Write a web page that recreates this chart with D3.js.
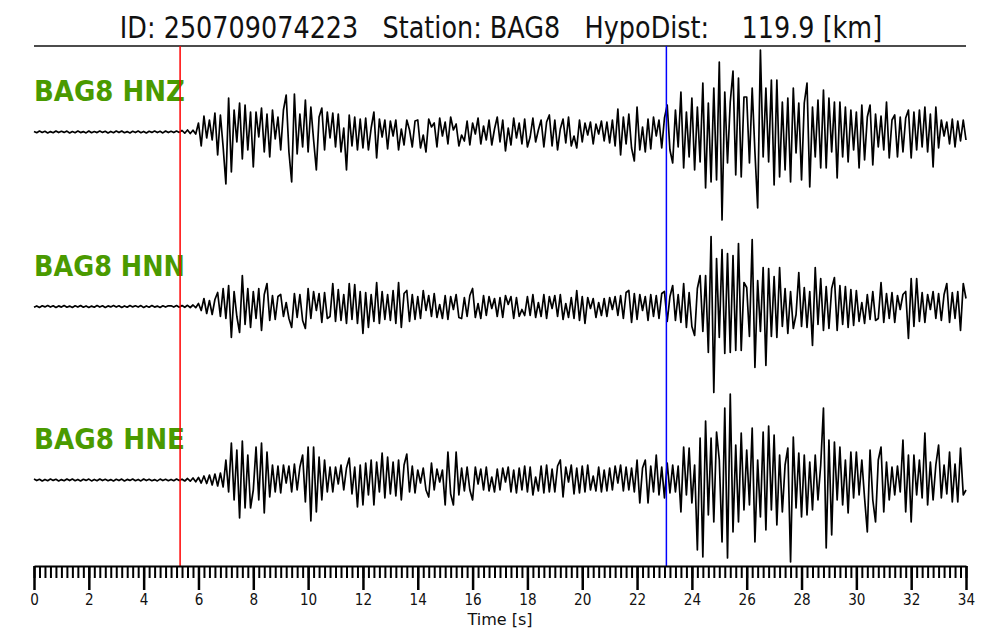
<!DOCTYPE html>
<html><head><meta charset="utf-8">
<script src="https://cdn.jsdelivr.net/npm/d3@7"></script>
<style>
body{margin:0;background:#fff}
svg{display:block}
text{font-family:"DejaVu Sans",sans-serif}
</style>
</head><body>
<svg id="chart" width="1000" height="640"></svg>
<script>
// ---------------- data ----------------
const eventId = "250709074223";
const station = "BAG8";
const hypoDist = "119.9";
const channels = ["BAG8 HNZ", "BAG8 HNN", "BAG8 HNE"];
const sampleInterval = 0.1;          // seconds between samples
const pPick = 5.33;                  // s (red)
const sPick = 23.07;                 // s (blue)
const majorTicks = d3.range(0, 35, 2);
const minorTicks = d3.range(0, 170.5, 1).map(d => d / 5);

// amplitudes (arbitrary units) at t = 0.0, 0.1, 0.2, ... s  (one row per second)
const hnz = [
 0.6,-0.7,0.9,-0.5,0.7,-0.9,0.4,-0.7,1.0,-0.6,
 0.7,-0.4,0.9,-1.0,0.5,-0.7,0.9,-0.6,0.4,-0.9,
 1.0,-0.7,0.5,-0.6,0.9,-0.4,0.7,-1.0,0.6,-0.7,
 0.9,-0.6,1.0,-0.7,0.4,-0.9,0.7,-0.6,0.9,-0.7,
 0.6,-1.0,0.7,-0.4,0.9,-0.6,0.7,-0.9,1.0,-0.6,
 0.7,-0.6,0.9,-0.4,1.5,-1.2,2,-1.5,1.8,-2,
 9,-14,16,-6,12,-8,19,-23,17,-15,
 -52,34,-40,22,-10,29,-27,27,-18,20,
 -35,20,-5,24,-20,18,-25,22,-7,15,
 -18,22,37,-20,-50,38,-22,18,-15,32,
 -20,25,-8,-38,15,24,-18,20,-6,19,
 -15,18,-20,4,-38,17,-14,15,-18,13,
 -16,14,-18,4,20,-26,13,-5,12,-17,
 11,-4,12,-18,3,-13,12,2,-15,11,
 12,-16,-3,-20,13,5,9,-15,14,-4,
 10,-12,15,2,8,-14,-3,-9,11,-13,
 9,-2,14,-12,6,-8,12,-13,3,15,
 -10,12,-19,4,-13,14,-6,9,-12,13,
 -15,-5,14,-10,2,12,-15,10,17,-14,
 12,-18,3,13,-11,15,-14,-4,-16,12,
 -10,9,-3,10,-12,8,-2,11,-9,10,
 -11,12,-14,23,-23,15,-12,18,-16,-29,
 25,-18,5,-20,13,-17,15,-4,12,-16,
 14,27,-18,-31,22,-15,40,-36,20,-25,
 34,-38,25,-30,49,-56,29,-50,44,-48,
 70,-88,40,-31,30,61,-43,54,-45,35,
 35,-31,44,-20,-76,82,-25,44,-30,52,
 -53,52,-45,30,-38,34,-50,44,-21,29,
 -48,29,49,-55,25,-25,32,-36,42,-36,
 34,-20,30,-46,30,-25,25,-30,22,-18,
 20,-36,27,-28,15,27,-33,18,-15,16,
 -18,30,-26,12,17,-25,15,-20,14,22,
 -26,20,-18,22,-15,25,-20,18,-35,25,
 -16,12,-4,10,-12,13,-15,11,-9,12,
 -8
];
const hnn = [
 -0.7,0.6,-0.9,0.7,-0.4,0.9,-0.6,0.7,-1.0,0.6,
 -0.6,0.9,-0.7,0.4,-0.9,0.7,-0.6,1.0,-0.7,0.6,
 -0.9,0.4,-0.7,0.9,-0.6,0.7,-1.0,0.6,-0.4,0.9,
 -0.6,0.7,-0.9,0.6,-0.7,1.0,-0.4,0.7,-0.6,0.9,
 -1.0,0.6,-0.7,0.9,-0.6,0.4,-0.9,0.7,-0.6,0.7,
 0.7,-0.6,0.9,-0.7,1,-0.8,1.2,-1,1.5,-1.2,
 3,-4,8,-7,6,-8,7,14,-10,18,
 -12,21,-31,15,-10,-26,31,-18,18,-21,
 15,-12,18,-24,12,23,-14,11,-13,10,
 12,-10,4,-12,-21,13,-11,12,-14,-22,
 18,-12,15,-4,13,-16,14,-12,-10,23,
 -15,17,-14,12,-17,23,-13,22,-17,15,
 -27,14,-21,12,-15,24,-17,15,-13,12,
 -14,16,-17,24,-21,13,16,-15,12,-13,
 10,-12,16,-4,11,-10,13,-11,2,-12,
 11,-13,10,-3,12,-11,-12,9,-10,11,
 18,-11,3,-12,11,-9,10,-2,8,-10,
 9,-11,11,2,10,-12,9,-10,-3,-9,
 10,-9,12,-11,4,-10,12,-12,10,-2,
 11,-10,12,-13,3,-11,9,-12,16,-14,
 10,-17,9,-2,8,-11,4,-9,8,-10,
 9,-3,10,-9,11,-12,14,16,-16,13,
 -13,12,-4,10,-14,12,-10,11,-12,13,
 15,-15,10,21,-14,12,-16,23,-21,14,
 -20,-29,18,31,-25,31,-46,70,-86,48,
 -31,57,-47,53,-46,51,-44,63,-44,24,
 19,-30,67,-61,26,-25,39,-59,38,-30,
 30,-31,39,-20,18,-27,15,-22,-8,34,
 -20,19,-21,15,-39,39,-18,28,-24,20,
 -22,18,29,-24,21,-18,20,-21,17,-19,
 16,-15,4,-17,12,-13,15,-14,-12,24,
 -16,13,-12,14,-16,11,-3,12,15,-32,
 28,-20,28,-15,14,-16,12,-3,15,-12,
 13,-14,12,23,-16,14,-12,15,-24,23,
 8
];
const hne = [
 0.9,-0.6,0.7,-1.0,0.6,-0.7,0.9,-0.4,0.7,-0.9,
 0.4,-0.7,1.0,-0.6,0.9,-0.7,0.6,-0.9,0.7,-0.4,
 0.9,-0.9,0.6,-0.7,1.0,-0.6,0.7,-0.7,0.4,-0.9,
 0.7,-0.6,0.9,-1.0,0.6,-0.4,0.9,-0.7,0.6,-0.9,
 1.0,-0.6,0.7,-0.7,0.4,-0.9,0.9,-0.6,0.7,-0.7,
 0.6,-0.7,0.9,-0.6,0.8,-1,1.5,-1.2,2,-1.8,
 2.5,-3,4,-3.5,5,-5,6,-6,7,-7,
 20,-12,37,-20,30,-38,39,-28,25,-28,
 -10,33,-20,37,-33,28,-17,15,-12,14,
 -13,15,-3,14,-12,16,-10,13,25,-22,
 33,-41,33,-32,23,-20,20,-12,13,-12,
 13,-4,15,-10,12,22,-14,13,-27,15,
 -25,17,-15,20,-25,18,-12,27,-18,23,
 -14,18,-16,20,-20,15,26,-12,14,-13,
 10,-3,12,-10,-17,17,-10,11,-2,10,
 -25,28,-14,-25,28,-15,12,-11,13,-10,
 -20,13,-4,11,-10,13,-11,3,-12,11,
 -10,12,-2,13,-12,10,-13,12,-10,14,
 -12,13,-15,3,-11,14,-13,15,-12,11,
 -12,14,20,-17,13,-2,15,-14,12,-13,
 14,-12,15,-10,4,-11,13,-12,10,-11,
 12,-10,14,-3,15,-11,13,-10,12,-12,
 20,-23,12,20,-23,14,-12,25,-15,13,
 -18,17,-13,15,-12,14,-32,33,-15,32,
 -23,15,-70,42,-77,59,-35,42,-42,48,
 20,-62,72,-78,86,-52,35,-42,47,-30,
 30,-25,52,-62,20,-37,48,-50,54,-30,
 45,-45,25,-32,15,32,-82,43,-28,27,
 -37,25,-35,18,-30,25,-20,15,72,-68,
 40,-55,38,-20,33,-25,20,-33,28,-18,
 28,-15,20,-18,-52,30,-20,-42,20,33,
 -32,18,-20,13,-15,14,-12,40,-32,25,
 -42,25,-15,20,-18,47,-25,18,-20,15,
 35,-18,15,-14,28,-22,16,-22,32,-15,
 -10
];
const traces = [hnz, hnn, hne];

// ---------------- drawing ----------------
const svg = d3.select("#chart");
const x = d3.scaleLinear().domain([0, 34]).range([34, 966]);
const baselines = [132, 306.5, 480];
const axisY = 566, topY = 46;

// title
svg.append("text")
  .attr("transform", "translate(501,38) scale(1,1.18)")
  .attr("text-anchor", "middle")
  .attr("font-size", 25.5)
  .style("white-space", "pre")
  .attr("fill", "#111")
  .text(`ID: ${eventId}   Station: ${station}   HypoDist:    ${hypoDist} [km]`);

// top rule
svg.append("line").attr("x1", x(0)).attr("x2", x(34)).attr("y1", topY).attr("y2", topY)
  .attr("stroke", "#111").attr("stroke-width", 1.5);

// traces
traces.forEach((vals, k) => {
  const y = d3.scaleLinear().domain([-100, 100]).range([baselines[k] + 100, baselines[k] - 100]);
  const line = d3.line().x((d, i) => x(i * sampleInterval)).y(d => y(d));
  svg.append("path").datum(vals)
    .attr("d", line).attr("fill", "none")
    .attr("stroke", "#000").attr("stroke-width", 1.7).attr("stroke-linejoin", "round");
  svg.append("text")
    .attr("x", 34).attr("y", baselines[k] - 31)
    .attr("font-size", 28).attr("font-weight", "bold")
    .attr("textLength", 151).attr("lengthAdjust", "spacingAndGlyphs")
    .attr("fill", "#4a9a00")
    .text(channels[k]);
});

// picks
[[pPick, "#ff0000"], [sPick, "#0000ff"]].forEach(([t, c]) => {
  svg.append("line").attr("x1", x(t)).attr("x2", x(t)).attr("y1", topY).attr("y2", axisY)
    .attr("stroke", c).attr("stroke-width", 1.5);
});

// axis: minor ticks
const minorAxis = d3.axisBottom(x).tickValues(minorTicks).tickSize(12).tickSizeOuter(0).tickFormat("");
const gMin = svg.append("g").attr("transform", `translate(0,${axisY})`).call(minorAxis);
gMin.selectAll(".tick line").attr("stroke", "#000").attr("stroke-width", 2);
gMin.select(".domain").attr("stroke", "#000").attr("stroke-width", 2);

const majorAxis = d3.axisBottom(x).tickValues(majorTicks).tickSize(24).tickSizeOuter(0).tickPadding(4).tickFormat(d3.format("d"));
const gMaj = svg.append("g").attr("transform", `translate(0,${axisY})`).call(majorAxis);
gMaj.select(".domain").remove();
gMaj.selectAll(".tick line").attr("stroke", "#000").attr("stroke-width", 2.5);
gMaj.selectAll(".tick text").attr("font-size", 16).attr("font-family", "DejaVu Sans")
  .attr("fill", "#111").attr("transform", "scale(0.85,1)");

svg.append("text").attr("x", 500).attr("y", 625).attr("text-anchor", "middle")
  .attr("font-size", 16).attr("fill", "#111").text("Time [s]");
</script>
</body></html>
